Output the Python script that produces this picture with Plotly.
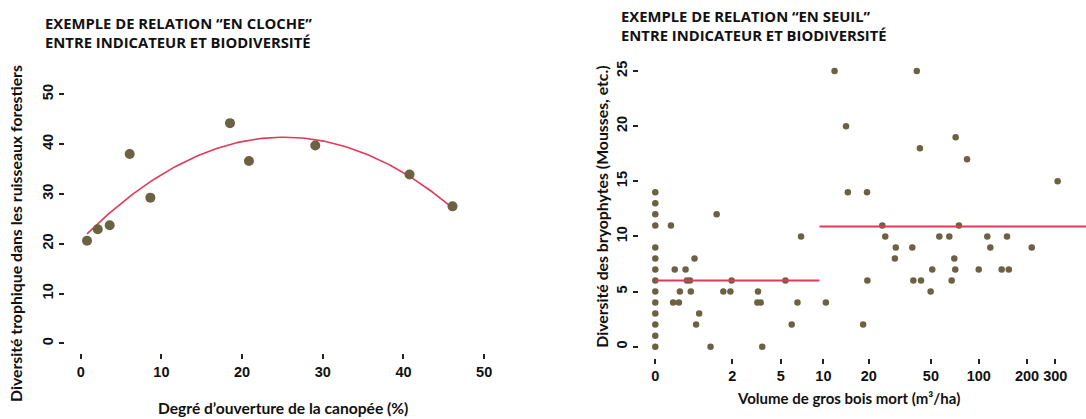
import numpy as np
import plotly.graph_objects as go

# ---- Left chart data: "en cloche" ----
canopee = [0.78, 2.11, 3.59, 6.07, 8.63, 18.5, 20.85, 29.07, 40.75, 46.08]
diversite_trophique = [20.6, 22.9, 23.7, 38.0, 29.25, 44.2, 36.6, 39.7, 33.9, 27.5]
left_xticks = [0, 10, 20, 30, 40, 50]
left_yticks = [0, 10, 20, 30, 40, 50]

# ---- Right chart data: "en seuil" ----
volume = [0] * 14 + [
    0.25, 0.32, 0.29, 0.40, 0.42, 0.54, 0.57, 0.64, 0.66, 0.75, 0.87, 0.79,
    1.40, 1.20, 1.64, 1.92, 1.97, 3.33, 3.29, 3.50, 3.60, 5.4, 6.0, 6.6, 7.0,
    10.4, 11.9, 40.7, 14.2, 14.6, 19.5, 42.6, 71.6, 84.4, 310, 24.5, 75.1,
    25.6, 56.5, 65.3, 113, 150, 29.9, 38.1, 118, 214, 29.5, 70.2, 51.0, 71.2,
    99.9, 139, 154, 19.6, 38.7, 43.3, 67.6, 49.8, 18.4]
bryophytes = [0, 1, 2, 3, 4, 5, 6, 7, 8, 9, 11, 12, 13, 14] + [
    11, 7, 4, 4, 5, 7, 6, 6, 5, 8, 3, 2,
    12, 0, 5, 5, 6, 5, 4, 4, 0, 6, 2, 4, 10,
    4, 25, 25, 20, 14, 14, 18, 19, 17, 15, 11, 11,
    10, 10, 10, 10, 10, 9, 9, 9, 9, 8, 8, 7, 7,
    7, 7, 7, 6, 6, 6, 6, 5, 2]
seuil_bas_x = [0, 9.4]
seuil_bas_y = [6.0, 6.0]
seuil_haut_x = [9.4, 466]
seuil_haut_y = [10.9, 10.9]
right_xtick_labels = [0, 2, 5, 10, 20, 50, 100, 200, 300]
right_yticks = [0, 5, 10, 15, 20, 25]

POINT = "#6b6143"
RED = "#e03a58"
TICKFONT = dict(family="Liberation Sans", size=14.5, color="#111111", weight="bold")
HEADFONT = dict(family="Open Sans", size=14.8, color="#111111", weight="bold")

def tfont(size):
    return dict(family="Lato", size=size, color="#111111", weight="bold")

fig = go.Figure()

# Left fitted quadratic
coef = np.polyfit(canopee, diversite_trophique, 2)
xs = np.linspace(min(canopee), max(canopee), 120)
fig.add_trace(go.Scatter(x=xs, y=np.polyval(coef, xs), mode="lines",
                         line=dict(color=RED, width=1.6), xaxis="x", yaxis="y",
                         showlegend=False, hoverinfo="skip"))
fig.add_trace(go.Scatter(x=canopee, y=diversite_trophique, mode="markers",
                         marker=dict(color=POINT, size=10), xaxis="x", yaxis="y",
                         showlegend=False))

# Right
vol1 = [v + 1 for v in volume]
fig.add_trace(go.Scatter(x=vol1, y=bryophytes, mode="markers",
                         marker=dict(color=POINT, size=6.5), xaxis="x2", yaxis="y2",
                         showlegend=False))
fig.add_trace(go.Scatter(x=[v + 1 for v in seuil_bas_x], y=seuil_bas_y, mode="lines",
                         line=dict(color=RED, width=2), xaxis="x2", yaxis="y2",
                         showlegend=False))
fig.add_trace(go.Scatter(x=[v + 1 for v in seuil_haut_x], y=seuil_haut_y, mode="lines",
                         line=dict(color=RED, width=2), xaxis="x2", yaxis="y2",
                         showlegend=False))

W, H = 1086, 419
def px(x):
    return x / W
def py(y):
    return 1 - y / H

common = dict(showgrid=False, zeroline=False, showline=False, ticks="outside",
              ticklen=5, tickwidth=1.5, tickcolor="#222222", tickfont=TICKFONT,
              automargin=False)

fig.update_layout(
    width=W, height=H, margin=dict(l=0, r=0, t=0, b=0, autoexpand=False),
    plot_bgcolor="white", paper_bgcolor="white",
    xaxis=dict(domain=[px(64.6), px(500.3)], range=[-2, 52], tickvals=left_xticks,
               anchor="y", **common),
    yaxis=dict(domain=[py(353.3), py(84.3)], range=[-2, 52], tickvals=left_yticks,
               tickangle=-90, anchor="x", **common),
    xaxis2=dict(domain=[px(639.2), 1.0], type="log", range=[-0.0997, 2.6685],
                tickvals=[v + 1 for v in right_xtick_labels],
                ticktext=[str(v) for v in right_xtick_labels], anchor="y2", **common),
    yaxis2=dict(domain=[py(357.7), py(60)], range=[-1, 26], tickvals=right_yticks,
                tickangle=-90, anchor="x2", **common),
)

ann = [
    dict(x=px(42.7), y=py(11), text="EXEMPLE DE RELATION “EN CLOCHE”<br>ENTRE INDICATEUR ET BIODIVERSITÉ",
         xanchor="left", yanchor="top", align="left", font=HEADFONT),
    dict(x=px(619.3), y=py(4), text="EXEMPLE DE RELATION “EN SEUIL”<br>ENTRE INDICATEUR ET BIODIVERSITÉ",
         xanchor="left", yanchor="top", align="left", font=HEADFONT),
    dict(x=px(15), y=py(234), text="Diversité trophique dans les ruisseaux forestiers",
         textangle=-90, xanchor="center", yanchor="middle", font=tfont(15.8)),
    dict(x=px(282.7), y=py(408), text="Degré d’ouverture de la canopée (%)",
         xanchor="center", yanchor="middle", font=tfont(15.6)),
    dict(x=px(601.7), y=py(207), text="Diversité des bryophytes (Mousses, etc.)",
         textangle=-90, xanchor="center", yanchor="middle", font=tfont(15.8)),
    dict(x=px(848), y=py(398), text="Volume de gros bois mort (m³/ha)",
         xanchor="center", yanchor="middle", font=tfont(15)),
]
for a in ann:
    a.update(xref="paper", yref="paper", showarrow=False)
fig.update_layout(annotations=ann)

fig.write_html("out.html", config={"displayModeBar": False},
               post_script="document.body.style.margin='0';document.body.style.padding='0';")
